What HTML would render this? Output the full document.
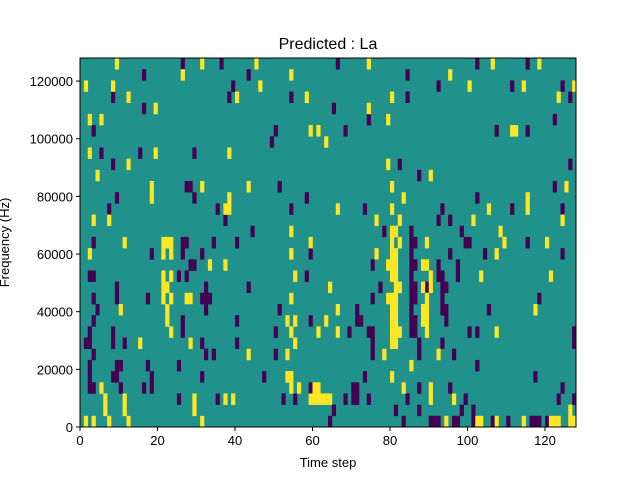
<!DOCTYPE html>
<html><head><meta charset="utf-8"><style>
body{margin:0;background:#fff;}
svg{display:block;font-family:"Liberation Sans","DejaVu Sans",sans-serif;}
</style></head><body>
<svg id="chart" width="640" height="480" xmlns="http://www.w3.org/2000/svg"></svg>
<script>
// Heatmap data: rows listed from highest frequency bin (top) to lowest (bottom); entries are time-step columns
const nTime = 128;
const nBins = 33;
const fMax = 128000;
const xTicks = [0, 20, 40, 60, 80, 100, 120];
const yTicks = [0, 20000, 40000, 60000, 80000, 100000, 120000];
const yTickLabels = ["0", "20000", "40000", "60000", "80000", "100000", "120000"];
const purpleCols = [
 [26,36,66,102,115],
 [16,43,84],
 [39,92,111,124],
 [8,38,54,84,126],
 [16,65],
 [74,122],
 [3,50,68,107,115],
 [49],
 [5,15,29],
 [8,82,126],
 [87],
 [27,28,51,122],
 [9,29,58,102],
 [7,35,54,73,93,111,124],
 [37,92,95],
 [44,78,85,98],
 [3,26,27,34,40,85,86,99,100,115],
 [18,26,31,59,85,95,104,124],
 [28,29,75,85,86,92,97],
 [2,3,25,27,58,85,92,93,97],
 [9,32,43,77,85,86,89,93,94],
 [3,9,17,31,32,33,75,85,86,93,118],
 [4,32,51,71,85,93,94,105],
 [3,26,40,59,71,72,85,86,94],
 [2,8,26,50,69,74,75,85,86,100,102,127],
 [1,2,8,11,31,40,75,87,93,127],
 [3,32,34,50,75,87,96],
 [2,9,10,17,25,102],
 [2,8,9,18,31,47,73,117],
 [2,3,10,16,18,59,70,71,87,95,124],
 [25,35,52,55,68,70,71,74,84,99,123,127],
 [65,81,87,98,101],
 [64,83,90,91,92,96,97,101,106,110,116,117,118,120]
];
const yellowCols = [
 [9,31,45,74,106,118],
 [26,54,95],
 [1,8,46,100,114,127],
 [12,40,58,80,123],
 [19,74],
 [2,5,79],
 [59,61,111,112],
 [63],
 [2,19,38],
 [12,79],
 [4,90],
 [18,31,43,80,125],
 [18,38,83,115],
 [37,38,66,80,105,115],
 [3,7,76,82,101,124],
 [54,80,81,108],
 [11,21,22,23,59,80,82,89,109,120],
 [2,21,23,54,76,80,81,107],
 [33,37,79,80,81,88,89],
 [21,23,55,80,81,90,103,121],
 [21,22,64,81,82,88,90],
 [21,23,27,28,54,79,80,81,89],
 [10,22,66,80,81,88,89,117],
 [22,53,55,63,80,81,88,89],
 [23,54,61,66,80,81,82,89,107],
 [15,28,55,80,81],
 [43,53,78,92],
 [85],
 [53,54,80],
 [5,54,56,60,61,83,90],
 [6,11,29,37,39,59,60,61,62,63,64,90,96],
 [6,11,29,126],
 [1,3,7,12,31,94,102,103,107,114,121,122,123,126,127]
];
const C_BG = "#21918c", C_LO = "#440154", C_HI = "#fde725";
const PL = 80, PR = 576, PT = 58, PB = 427;
const xs = t => PL + (t / nTime) * (PR - PL);
const ys = f => PB - (f / fMax) * (PB - PT);
const binTop = r => PT + r * (PB - PT) / nBins;
const NS = "http://www.w3.org/2000/svg";
const svg = document.getElementById("chart");
function mk(tag, attrs, parent) {
  const e = document.createElementNS(NS, tag);
  for (const k in attrs) e.setAttribute(k, attrs[k]);
  (parent || svg).appendChild(e);
  return e;
}
const bg = mk("rect", {x: PL, y: PT, width: PR - PL, height: PB - PT, fill: C_BG});


const cells = mk("g", {});


function drawCells(list, color, kind) {
  list.forEach((cols, r) => {
    cols.forEach(c => {
      const y0 = binTop(r), y1 = binTop(r + 1);
      const cell = mk("rect", {x: xs(c), y: y0, width: xs(c + 1) - xs(c) + 0.3, height: y1 - y0 + 0.3, fill: color}, cells);
      
      
    });
  });
}
drawCells(purpleCols, C_LO, "low");
drawCells(yellowCols, C_HI, "high");
const frame = mk("rect", {x: PL, y: PT, width: PR - PL, height: PB - PT, fill: "none", stroke: "#000", "stroke-width": 1});


xTicks.forEach(t => {
  const x = xs(t);
  const tk = mk("line", {x1: x, y1: PB, x2: x, y2: PB + 4, stroke: "#000"});
  
  
  const lb = mk("text", {x: x, y: PB + 18, "text-anchor": "middle", "font-size": 13});
  lb.textContent = String(t);
  
  
});
yTicks.forEach((v, i) => {
  const y = ys(v);
  const tk = mk("line", {x1: PL - 4, y1: y, x2: PL, y2: y, stroke: "#000"});
  
  
  const lb = mk("text", {x: PL - 7, y: y + 5, "text-anchor": "end", "font-size": 13});
  lb.textContent = yTickLabels[i];
  
  
});
const xt = mk("text", {x: (PL + PR) / 2, y: 467, "text-anchor": "middle", "font-size": 13});
xt.textContent = "Time step";


const yt = mk("text", {x: 0, y: 0, "text-anchor": "middle", "font-size": 13, transform: "translate(9," + ((PT + PB) / 2) + ") rotate(-90)"});
yt.textContent = "Frequency (Hz)";


const title = mk("text", {x: (PL + PR) / 2, y: 49, "text-anchor": "middle", "font-size": 16});
title.textContent = "Predicted : La";


</script>
</body></html>
